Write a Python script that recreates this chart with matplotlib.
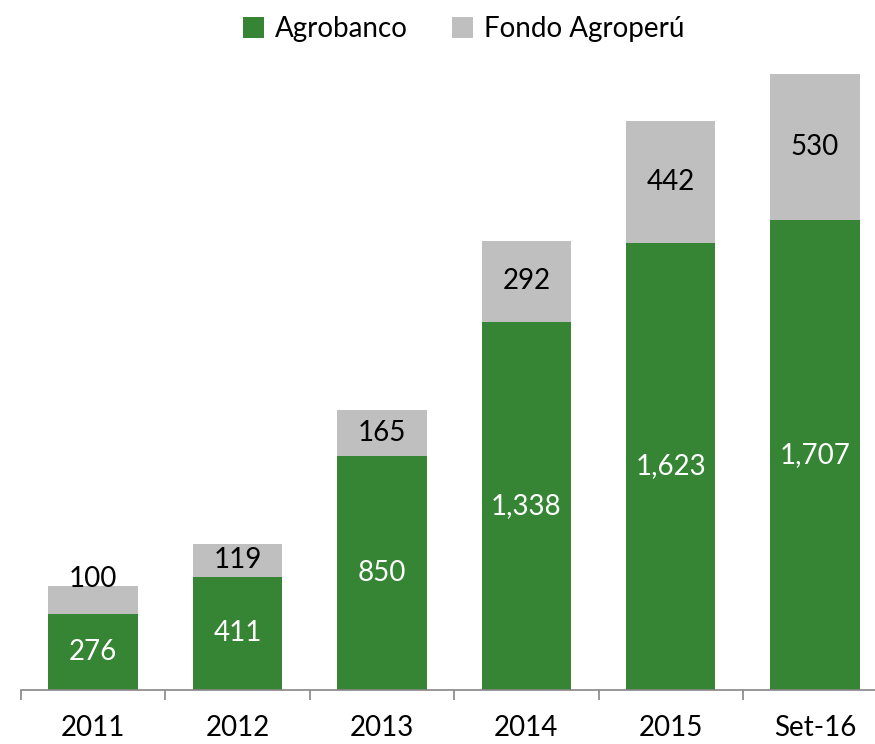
import numpy as np
import matplotlib.pyplot as plt

# Data
categories = ['2011', '2012', '2013', '2014', '2015', 'Set-16']
agrobanco = [276, 411, 850, 1338, 1623, 1707]
fondo = [100, 119, 165, 292, 442, 530]

green = '#358535'
gray = '#bfbfbf'

plt.rcParams['font.family'] = ['Lato', 'DejaVu Sans']

fig = plt.figure(figsize=(8.75, 7.44), dpi=100)
# axes spans from first category boundary to beyond right edge (clipped like original)
ax = fig.add_axes([0.024, 0.0726, 0.99, 0.828])

x = np.arange(len(categories))
width = 0.62

b1 = ax.bar(x, agrobanco, width, color=green, label='Agrobanco')
b2 = ax.bar(x, fondo, width, bottom=agrobanco, color=gray, label='Fondo Agroperú')

ax.set_xlim(-0.5, 5.5)
ax.set_ylim(0, 2237)

# Value labels
for i, (a, f) in enumerate(zip(agrobanco, fondo)):
    ax.text(x[i], a / 2, f'{a:,}', ha='center', va='center',
            color='white', fontsize=20)
    if i == 0:
        # too small to fit inside, nudged upwards
        ax.annotate(f'{f:,}', (x[i], a + f / 2), xytext=(0, 15),
                    textcoords='offset points', ha='center', va='center',
                    color='black', fontsize=20)
    else:
        ax.text(x[i], a + f / 2, f'{f:,}', ha='center', va='center',
                color='black', fontsize=20)

# Axis styling
for side in ['left', 'right', 'top']:
    ax.spines[side].set_visible(False)
ax.spines['bottom'].set_color('#868686')
ax.spines['bottom'].set_linewidth(1.2)
ax.set_yticks([])

ax.set_xticks(x)
ax.set_xticklabels(categories, fontsize=20)
ax.tick_params(axis='x', which='major', length=0, pad=18)
ax.set_xticks(np.arange(-0.5, 5.6, 1), minor=True)
ax.tick_params(axis='x', which='minor', length=7.5, width=1.2, color='#868686')

leg = fig.legend(handles=[b1, b2], loc='upper center', ncol=2,
                 bbox_to_anchor=(0.53, 1.012), frameon=False, fontsize=20,
                 handlelength=0.75, handleheight=0.75, handletextpad=0.4,
                 columnspacing=1.6)

plt.savefig('out.png', dpi=100)
